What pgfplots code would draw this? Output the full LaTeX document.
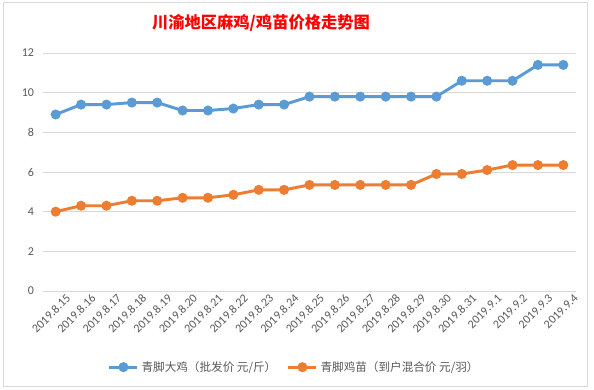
\documentclass[border=0pt]{standalone}
\usepackage{pgfplots}
\pgfplotsset{compat=1.18}
\usepackage{fontspec}
\setmainfont{Carlito}
\newfontfamily\cjk{Noto Sans CJK SC}
\definecolor{cblue}{HTML}{5B9BD5}
\definecolor{corange}{HTML}{ED7D31}
\definecolor{ctext}{HTML}{595959}
\definecolor{cgrid}{HTML}{D9D9D9}
\begin{document}
\begin{tikzpicture}
\path[use as bounding box, fill=white] (0,0) rectangle (445.5pt,292.5pt);
\draw[cgrid, line width=0.75pt] (2.25pt,2.25pt) rectangle (440.25pt,290.25pt);
\node[text=red, font=\cjk\bfseries\fontsize{12.2}{14}\selectfont] at (195.75pt,275.5pt) {川渝地区麻鸡/鸡苗价格走势图};
\begin{axis}[
  at={(32.25pt,74.25pt)}, anchor=south west,
  scale only axis, width=399.75pt, height=178.5pt,
  xmin=-0.5, xmax=20.5, ymin=0, ymax=12,
  ytick={0,2,4,6,8,10,12},
  xtick={0,...,20},
  xticklabels={2019.8.15,2019.8.16,2019.8.17,2019.8.18,2019.8.19,2019.8.20,2019.8.21,2019.8.22,2019.8.23,2019.8.24,2019.8.25,2019.8.26,2019.8.27,2019.8.28,2019.8.29,2019.8.30,2019.8.31,2019.9.1,2019.9.2,2019.9.3,2019.9.4},
  axis line style={draw=none},
  major tick length=0pt,
  ymajorgrids, grid style={cgrid, line width=0.75pt},
  tick label style={font=\fontsize{9}{10}\selectfont, text=ctext},
  /pgf/number format/assume math mode=true,
  yticklabel style={anchor=east, inner sep=0pt, xshift=-6.5pt},
  xticklabel style={rotate=45, anchor=east, inner sep=0pt, xshift=4pt, yshift=-9.5pt},
  legend style={at={(axis description cs:0.472,-0.32)}, anchor=center, draw=none, fill=none,
    font=\cjk\fontsize{8.7}{10}\selectfont, text=ctext, legend columns=2,
    nodes={inner sep=2pt},
    /tikz/every even column/.append style={column sep=6pt}},
  legend image code/.code={\draw[mark repeat=2,mark phase=2,#1] plot coordinates {(0pt,0pt)(10.5pt,0pt)(21pt,0pt)};},
  every axis plot/.append style={line width=2.2pt, mark=*, mark size=2.6pt},
]
\addplot[cblue, mark options={fill=cblue, draw=cblue}] coordinates {
(0,8.9)(1,9.4)(2,9.4)(3,9.5)(4,9.5)(5,9.1)(6,9.1)(7,9.2)(8,9.4)(9,9.4)
(10,9.8)(11,9.8)(12,9.8)(13,9.8)(14,9.8)(15,9.8)(16,10.6)(17,10.6)(18,10.6)(19,11.4)(20,11.4)};
\addlegendentry{青脚大鸡（批发价 元/斤）}
\addplot[corange, mark options={fill=corange, draw=corange}] coordinates {
(0,4.0)(1,4.3)(2,4.3)(3,4.55)(4,4.55)(5,4.7)(6,4.7)(7,4.85)(8,5.1)(9,5.1)
(10,5.35)(11,5.35)(12,5.35)(13,5.35)(14,5.35)(15,5.9)(16,5.9)(17,6.1)(18,6.35)(19,6.35)(20,6.35)};
\addlegendentry{青脚鸡苗（到户混合价 元/羽）}
\end{axis}
\end{tikzpicture}
\end{document}
